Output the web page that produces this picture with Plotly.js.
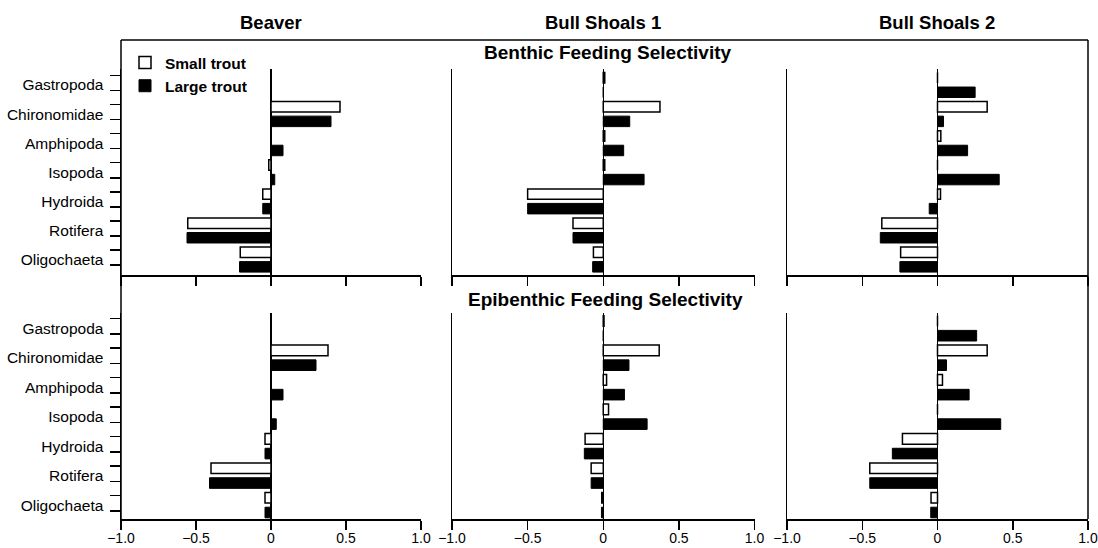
<!DOCTYPE html>
<html>
<head>
<meta charset="utf-8">
<script src="https://cdn.plot.ly/plotly-3.0.1.min.js"></script>
<style>html,body{margin:0;padding:0;background:#fff;}#chart{width:1098px;height:548px;}</style>
</head>
<body>
<div id="chart"></div>
<script>
// ---------------- DATA ----------------
const categories = ["Gastropoda", "Chironomidae", "Amphipoda", "Isopoda", "Hydroida", "Rotifera", "Oligochaeta"];
const lakes = ["Beaver", "Bull Shoals 1", "Bull Shoals 2"];
const rowTitles = ["Benthic Feeding Selectivity", "Epibenthic Feeding Selectivity"];
const seriesNames = ["Small trout", "Large trout"];

// Benthic feeding selectivity
const beaverBenthicSmall = [0, 0.46, 0, -0.015, -0.055, -0.555, -0.205];
const beaverBenthicLarge = [0, 0.40, 0.08, 0.025, -0.055, -0.56, -0.21];
const bs1BenthicSmall = [0.01, 0.375, 0.01, 0.01, -0.50, -0.20, -0.065];
const bs1BenthicLarge = [0, 0.175, 0.135, 0.27, -0.50, -0.20, -0.07];
const bs2BenthicSmall = [0, 0.33, 0.022, 0, 0.02, -0.37, -0.245];
const bs2BenthicLarge = [0.25, 0.04, 0.20, 0.41, -0.055, -0.38, -0.25];

// Epibenthic feeding selectivity
const beaverEpiSmall = [0, 0.38, 0, 0, -0.04, -0.40, -0.04];
const beaverEpiLarge = [0, 0.30, 0.08, 0.035, -0.04, -0.41, -0.04];
const bs1EpiSmall = [0.005, 0.37, 0.022, 0.035, -0.12, -0.08, -0.01];
const bs1EpiLarge = [0, 0.17, 0.14, 0.29, -0.125, -0.08, -0.012];
const bs2EpiSmall = [0, 0.33, 0.033, 0, -0.233, -0.45, -0.043];
const bs2EpiLarge = [0.26, 0.06, 0.21, 0.42, -0.30, -0.45, -0.045];

const xTickVals = [-1, -0.5, 0, 0.5, 1];
const xTickText = ["\u22121.0", "\u22120.5", "0", "0.5", "1.0"];

// ---------------- LAYOUT HELPERS ----------------
const W = 1098, H = 548;
const fx = p => p / W;
const fy = p => 1 - p / H;
const FONT = "Liberation Sans, Arial, Helvetica, sans-serif";

const colPx = [[121, 421], [452, 754.5], [787, 1088]];
const rowPx = [[69, 275], [313, 519]];
const rowRange = [[6.53, -0.55], [6.47, -0.52]];

const panelData = [
  [[beaverBenthicSmall, beaverBenthicLarge], [bs1BenthicSmall, bs1BenthicLarge], [bs2BenthicSmall, bs2BenthicLarge]],
  [[beaverEpiSmall, beaverEpiLarge], [bs1EpiSmall, bs1EpiLarge], [bs2EpiSmall, bs2EpiLarge]]
];

const yIdx = categories.map((c, i) => i);
const traces = [];
const layout = {
  width: W, height: H,
  margin: {l: 0, r: 0, t: 0, b: 0},
  paper_bgcolor: "white", plot_bgcolor: "rgba(0,0,0,0)",
  barmode: "group", bargap: 0, bargroupgap: 0.28,
  font: {family: FONT, color: "black", size: 14},
  showlegend: true,
  legend: {
    x: fx(125), y: fy(46), xanchor: "left", yanchor: "top",
    bgcolor: "rgba(0,0,0,0)", borderwidth: 0, traceorder: "normal",
    font: {family: FONT, size: 15.5, color: "black", weight: "bold"},
    itemwidth: 30, tracegroupgap: 0
  },
  shapes: [], annotations: []
};

let k = 0;
for (let r = 0; r < 2; r++) {
  for (let c = 0; c < 3; c++) {
    k++;
    const xa = k === 1 ? "xaxis" : "xaxis" + k;
    const ya = k === 1 ? "yaxis" : "yaxis" + k;
    const xr = k === 1 ? "x" : "x" + k;
    const yr = k === 1 ? "y" : "y" + k;
    layout[xa] = {
      domain: [fx(colPx[c][0]), fx(colPx[c][1])],
      anchor: yr,
      range: [-1, 1],
      tickmode: "array", tickvals: xTickVals, ticktext: xTickText,
      showticklabels: r === 1,
      ticks: "outside", ticklen: 9, tickwidth: 1.5, tickcolor: "black",
      ticklabelstandoff: -4,
      showline: true, linecolor: "black", linewidth: 2,
      showgrid: false,
      zeroline: true, zerolinecolor: "black", zerolinewidth: 1.5,
      tickfont: {family: FONT, size: 14, color: "black"},
      fixedrange: true
    };
    const yax = {
      domain: [fy(rowPx[r][1]), fy(rowPx[r][0])],
      anchor: xr,
      range: rowRange[r],
      tickmode: "array", tickvals: yIdx, ticktext: categories,
      showticklabels: c === 0,
      ticks: c === 0 ? "outside" : "", ticklen: 13, tickcolor: "rgba(0,0,0,0)",
      showline: true, linecolor: "black", linewidth: 1.5,
      showgrid: false, zeroline: false,
      tickfont: {family: FONT, size: 15.5, color: "black"},
      fixedrange: true
    };
    if (c === 0) {
      const mv = [];
      yIdx.forEach(i => { mv.push(i - 0.33); mv.push(i + 0.19); });
      yax.minor = {tickmode: "array", tickvals: mv, ticks: "outside", ticklen: 10, tickwidth: 1.5, tickcolor: "black", showgrid: false};
    }
    layout[ya] = yax;

    const [smallVals, largeVals] = panelData[r][c];
    traces.push({
      type: "bar", orientation: "h", name: seriesNames[0],
      x: smallVals, y: yIdx, xaxis: xr, yaxis: yr,
      marker: {color: "white", line: {color: "black", width: 1.5}},
      showlegend: k === 1, legendgroup: "small", hoverinfo: "x+name"
    });
    traces.push({
      type: "bar", orientation: "h", name: seriesNames[1],
      x: largeVals, y: yIdx, xaxis: xr, yaxis: yr,
      marker: {color: "black", line: {color: "black", width: 1}},
      showlegend: k === 1, legendgroup: "large", hoverinfo: "x+name"
    });
  }
}

// Outer frame
const line = (x0, y0, x1, y1, w) => ({type: "line", xref: "paper", yref: "paper",
  x0: fx(x0), y0: fy(y0), x1: fx(x1), y1: fy(y1), line: {color: "black", width: w}});
layout.shapes.push(line(121, 40, 1088, 40, 1.5));
layout.shapes.push(line(121, 40, 121, 519, 1.5));
layout.shapes.push(line(1088, 40, 1088, 519, 1.5));

// Titles
const colCenters = [271, 603, 937];
lakes.forEach((t, i) => layout.annotations.push({
  text: "<b>" + t + "</b>", xref: "paper", yref: "paper", x: fx(colCenters[i]), y: fy(23),
  xanchor: "center", yanchor: "middle", showarrow: false,
  font: {family: FONT, size: 18.5, color: "black"}
}));
layout.annotations.push({
  text: "<b>" + rowTitles[0] + "</b>", xref: "paper", yref: "paper", x: fx(607), y: fy(53),
  xanchor: "center", yanchor: "middle", showarrow: false, font: {family: FONT, size: 19, color: "black"}
});
layout.annotations.push({
  text: "<b>" + rowTitles[1] + "</b>", xref: "paper", yref: "paper", x: fx(606), y: fy(299),
  xanchor: "center", yanchor: "middle", showarrow: false, font: {family: FONT, size: 19, color: "black"}
});

Plotly.newPlot("chart", traces, layout, {displayModeBar: false, staticPlot: true});
</script>
</body>
</html>
